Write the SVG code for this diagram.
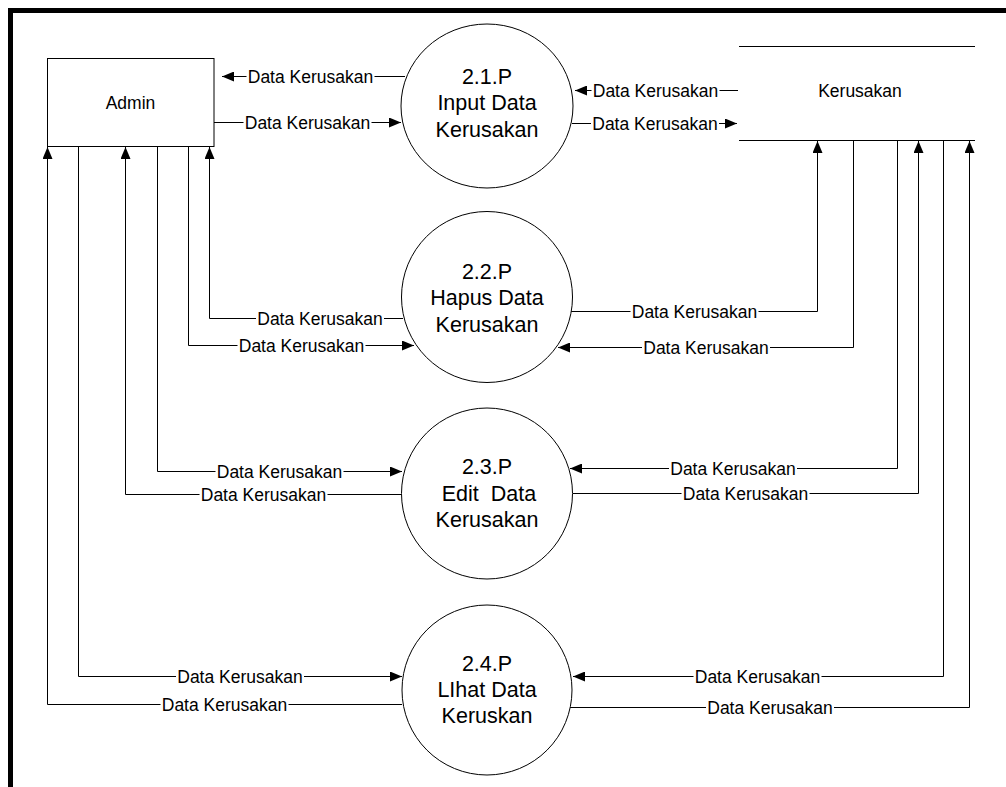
<svg xmlns="http://www.w3.org/2000/svg" width="1006" height="787" viewBox="0 0 1006 787">
  <style>
    .frame { fill: none; stroke: #000; stroke-width: 5; }
    .box { fill: #fff; stroke: #000; stroke-width: 1; }
    .store { stroke: #000; stroke-width: 1; }
    .proc { fill: #fff; stroke: #000; stroke-width: 1; }
    .flow { fill: none; stroke: #000; stroke-width: 1; }
    .arr { marker-end: url(#head); }
    .lbl-bg { fill: #fff; }
    .lbl { font-family: "Liberation Sans", Arial, sans-serif; font-size: 17.5px; fill: #000; text-anchor: middle; }
    .ptxt { font-family: "Liberation Sans", Arial, sans-serif; font-size: 21.5px; fill: #000; text-anchor: middle; }
    .ntxt { font-family: "Liberation Sans", Arial, sans-serif; font-size: 17.5px; fill: #000; text-anchor: middle; }
  </style>
  <defs>
    <marker id="head" markerUnits="userSpaceOnUse" markerWidth="12" markerHeight="10" refX="12" refY="5" orient="auto">
      <path d="M0,0 L12,5 L0,10 Z" fill="#000"/>
    </marker>
  </defs>

  <rect width="1006" height="787" fill="#fff"/>

  <!-- page frame: heavy rule on left and top edges -->
  <path class="frame" d="M10.5,787 V10.5 H1006"/>

  <!-- data flows -->
  <g id="connectors">
    <!-- 2.1 Input -->
    <path class="flow arr" d="M405,76.5 H222"/>
    <path class="flow arr" d="M214,122.5 H401"/>
    <path class="flow arr" d="M738,90.5 H575"/>
    <path class="flow arr" d="M572,123.5 H737"/>
    <!-- 2.2 Hapus -->
    <path class="flow arr" d="M403,318.5 H209.5 V147"/>
    <path class="flow arr" d="M188.5,146.5 V345.5 H414"/>
    <path class="flow arr" d="M571,311.5 H817.5 V141"/>
    <path class="flow arr" d="M853.5,141 V347.5 H558"/>
    <!-- 2.3 Edit -->
    <path class="flow arr" d="M157.5,146.5 V471.5 H402"/>
    <path class="flow arr" d="M402,494.5 H125.5 V147"/>
    <path class="flow arr" d="M897.5,141 V468.5 H570"/>
    <path class="flow arr" d="M573,493.5 H918.5 V141"/>
    <!-- 2.4 Lihat -->
    <path class="flow arr" d="M78.5,146.5 V676.5 H402"/>
    <path class="flow arr" d="M402,704.5 H47.5 V147"/>
    <path class="flow arr" d="M943.5,141 V676.5 H573"/>
    <path class="flow arr" d="M570,707.5 H969.5 V141"/>
  </g>

  <!-- flow labels -->
  <g id="flow-labels">
    <rect class="lbl-bg" x="246.5" y="67" width="128" height="18"/>
    <text class="lbl" x="310.5" y="83">Data Kerusakan</text>
    <rect class="lbl-bg" x="243.5" y="113.5" width="128" height="18"/>
    <text class="lbl" x="307.5" y="129">Data Kerusakan</text>
    <rect class="lbl-bg" x="591.5" y="81.5" width="128" height="18"/>
    <text class="lbl" x="655.5" y="97">Data Kerusakan</text>
    <rect class="lbl-bg" x="591" y="114.5" width="128" height="18"/>
    <text class="lbl" x="655" y="130">Data Kerusakan</text>

    <rect class="lbl-bg" x="256" y="309.5" width="128" height="18"/>
    <text class="lbl" x="320" y="325">Data Kerusakan</text>
    <rect class="lbl-bg" x="237.5" y="336.5" width="128" height="18"/>
    <text class="lbl" x="301.5" y="352">Data Kerusakan</text>
    <rect class="lbl-bg" x="630.5" y="302.5" width="128" height="18"/>
    <text class="lbl" x="694.5" y="318">Data Kerusakan</text>
    <rect class="lbl-bg" x="642" y="338.5" width="128" height="18"/>
    <text class="lbl" x="706" y="354">Data Kerusakan</text>

    <rect class="lbl-bg" x="215.5" y="462.5" width="128" height="18"/>
    <text class="lbl" x="279.5" y="478">Data Kerusakan</text>
    <rect class="lbl-bg" x="199.5" y="485.5" width="128" height="18"/>
    <text class="lbl" x="263.5" y="501">Data Kerusakan</text>
    <rect class="lbl-bg" x="669" y="459.5" width="128" height="18"/>
    <text class="lbl" x="733" y="475">Data Kerusakan</text>
    <rect class="lbl-bg" x="681.5" y="484.5" width="128" height="18"/>
    <text class="lbl" x="745.5" y="500">Data Kerusakan</text>

    <rect class="lbl-bg" x="176" y="667.5" width="128" height="18"/>
    <text class="lbl" x="240" y="683">Data Kerusakan</text>
    <rect class="lbl-bg" x="160.5" y="695.5" width="128" height="18"/>
    <text class="lbl" x="224.5" y="711">Data Kerusakan</text>
    <rect class="lbl-bg" x="693.5" y="667.5" width="128" height="18"/>
    <text class="lbl" x="757.5" y="683">Data Kerusakan</text>
    <rect class="lbl-bg" x="706" y="698.5" width="128" height="18"/>
    <text class="lbl" x="770" y="714">Data Kerusakan</text>
  </g>

  <!-- external entity -->
  <g id="node-admin">
    <rect class="box" x="47.5" y="58.5" width="166.5" height="88"/>
    <text class="ntxt" x="130.5" y="108.5">Admin</text>
  </g>

  <!-- data store -->
  <g id="node-store-kerusakan">
    <line class="store" x1="739" y1="46.5" x2="975" y2="46.5"/>
    <line class="store" x1="739" y1="140.5" x2="975" y2="140.5"/>
    <text class="ntxt" x="860" y="96.5">Kerusakan</text>
  </g>

  <!-- processes -->
  <g id="node-p21">
    <ellipse class="proc" cx="487" cy="106" rx="86" ry="82"/>
    <text class="ptxt" x="487" y="83.5">2.1.P</text>
    <text class="ptxt" x="487" y="110">Input Data</text>
    <text class="ptxt" x="487" y="136.5">Kerusakan</text>
  </g>

  <g id="node-p22">
    <circle class="proc" cx="487" cy="297" r="85.5"/>
    <text class="ptxt" x="487" y="278.5">2.2.P</text>
    <text class="ptxt" x="487" y="305">Hapus Data</text>
    <text class="ptxt" x="487" y="331.5">Kerusakan</text>
  </g>

  <g id="node-p23">
    <circle class="proc" cx="487" cy="493.5" r="85.5"/>
    <text class="ptxt" x="487" y="474">2.3.P</text>
    <text class="ptxt" x="489" y="500.5" xml:space="preserve" style="white-space:pre">Edit  Data</text>
    <text class="ptxt" x="487" y="527">Kerusakan</text>
  </g>

  <g id="node-p24">
    <circle class="proc" cx="487" cy="690" r="85"/>
    <text class="ptxt" x="487" y="671">2.4.P</text>
    <text class="ptxt" x="487" y="697">LIhat Data</text>
    <text class="ptxt" x="487" y="723">Keruskan</text>
  </g>
</svg>
